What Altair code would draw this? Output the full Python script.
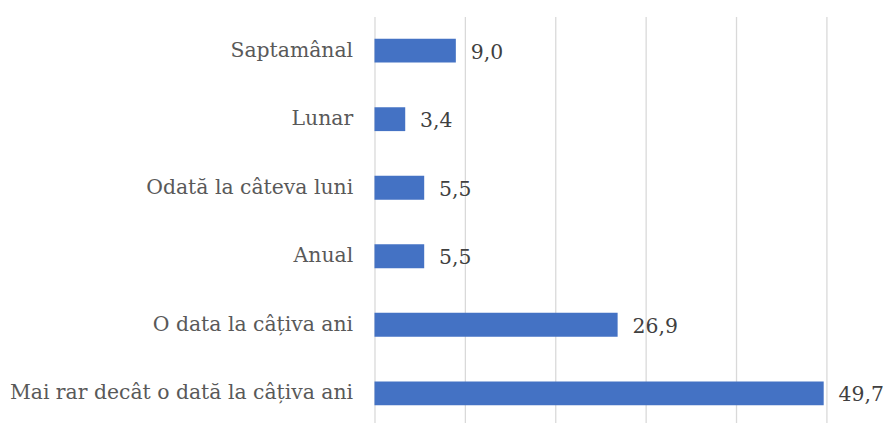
import altair as alt
import pandas as pd

categories = ["Saptamânal", "Lunar", "Odată la câteva luni", "Anual",
              "O data la câțiva ani", "Mai rar decât o dată la câțiva ani"]
values = [9.0, 3.4, 5.5, 5.5, 26.9, 49.7]

df = pd.DataFrame({"cat": categories, "v": values})

FONT = "DejaVu Serif"

y_enc = alt.Y("cat:N", sort=categories,
              scale=alt.Scale(paddingInner=0.652, paddingOuter=0.326),
              axis=alt.Axis(title=None, domain=False, ticks=False, labelFont=FONT,
                            labelFontSize=20.5, labelColor="#595959", labelPadding=22,
                            labelLimit=0, grid=False))
x_enc = alt.X("v:Q", scale=alt.Scale(domain=[0, 50], nice=False),
              axis=alt.Axis(title=None, labels=False, ticks=False, domain=False,
                            grid=True, gridColor="#d9d9d9", gridWidth=1.3,
                            values=[0, 10, 20, 30, 40, 50]))

base = alt.Chart(df).encode(y=y_enc, x=x_enc)

bars = base.mark_bar(color="#4472C4")
texts = base.transform_calculate(
    lab="replace(format(datum.v, '.1f'), '.', ',')"
).mark_text(align="left", baseline="middle", dx=15, dy=2, font=FONT,
            fontSize=20.5, color="#404040").encode(text="lab:N")

chart = (bars + texts).properties(
    width=455, height=414,
    autosize=alt.AutoSizeParams(type="none"),
    padding={"left": 369, "top": 7, "right": 60, "bottom": 0},
).configure_view(stroke=None)

chart.save("out.html", embed_options={"renderer": "svg", "actions": False})
